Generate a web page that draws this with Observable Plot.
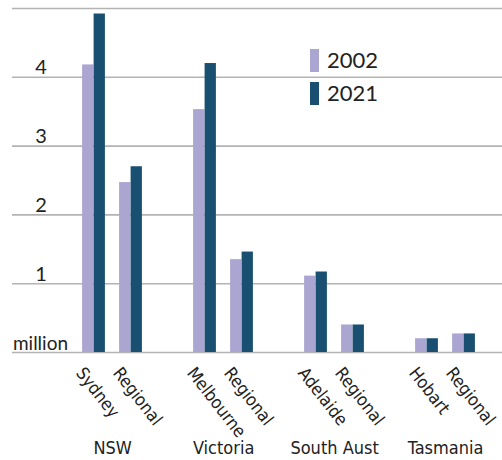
<!DOCTYPE html>
<html>
<head>
<meta charset="utf-8">
<script src="https://cdn.jsdelivr.net/npm/d3@7"></script>
<script src="https://cdn.jsdelivr.net/npm/@observablehq/plot@0.6"></script>
<style>
  body { margin: 0; background: #fff; }
  #wrap { position: relative; width: 502px; height: 460px; overflow: hidden; }
  .sw { position: absolute; width: 9px; height: 23px; }
  .lt { position: absolute; font-family: Lato, "Open Sans", sans-serif; font-size: 22px; line-height: 22px; color: #222; }
</style>
</head>
<body>
<div id="wrap"></div>
<script>
// ---- data ----
const states = ["NSW", "Victoria", "South Aust", "Tasmania"];
const places = ["Sydney", "Regional", "Melbourne", "Regional", "Adelaide", "Regional", "Hobart", "Regional"];
const placeState = ["NSW", "NSW", "Victoria", "Victoria", "South Aust", "South Aust", "Tasmania", "Tasmania"];
const pop2002 = [4.18, 2.47, 3.53, 1.35, 1.11, 0.40, 0.20, 0.27];
const pop2021 = [4.92, 2.70, 4.20, 1.46, 1.17, 0.40, 0.20, 0.27];
const years = ["2002", "2021"];
const yTicks = [1, 2, 3, 4];
const yGrid = [0, 1, 2, 3, 4, 5];
const yUnit = "million";

const colors = {"2002": "#aba6d1", "2021": "#194f70"};

// ---- table ----
const rows = places.map((p, i) => ({
  key: placeState[i] + " " + p,
  place: p,
  state: placeState[i],
  v2002: pop2002[i],
  v2021: pop2021[i],
  first: i % 2 === 0
}));
// x domain: two places per state with an empty slot between states
const xDomain = [];
states.forEach((s, si) => {
  rows.filter(r => r.state === s).forEach(r => xDomain.push(r.key));
  if (si < states.length - 1) xDomain.push("gap" + si);
});

const labelFont = '"Liberation Sans Narrow", "DejaVu Sans Condensed", "Arial Narrow", sans-serif';
const numFont = 'Lato, "Open Sans", sans-serif';

const chart = Plot.plot({
  width: 502,
  height: 460,
  marginLeft: 12,
  marginRight: 0,
  marginTop: 8,
  marginBottom: 108,
  style: {background: "transparent", color: "#222"},
  x: {domain: xDomain, range: [74.1, 483.6], padding: 0, axis: null},
  y: {domain: [0, 5], axis: null},
  marks: [
    Plot.ruleY(yGrid, {y: d => d, stroke: "#b3b3b3", strokeWidth: 1.6}),
    Plot.barY(rows, {x: "key", y: "v2002", fill: colors["2002"], insetLeft: 7.1, insetRight: 18.6}),
    Plot.barY(rows, {x: "key", y: "v2021", fill: colors["2021"], insetLeft: 18.6, insetRight: 7.1}),
    Plot.text(yTicks, {y: d => d, text: d => String(d), frameAnchor: "left", dx: 28.5, dy: -3,
      lineAnchor: "bottom", textAnchor: "middle", fontSize: 20, fontFamily: numFont, fill: "#222"}),
    Plot.text([yUnit], {y: () => 0, text: d => d, frameAnchor: "left", dx: 28, dy: -3,
      lineAnchor: "bottom", textAnchor: "middle", fontSize: 19, fontFamily: numFont, fill: "#222"}),
    Plot.text(rows, {x: "key", text: "place", frameAnchor: "bottom", rotate: 52, textAnchor: "start",
      lineAnchor: "top", dx: -9, dy: 13, fontSize: 17.5, fontFamily: labelFont, fill: "#222"}),
    Plot.text(rows.filter(r => r.first), {x: "key", text: "state", frameAnchor: "bottom", dx: 18.6, dy: 101,
      lineAnchor: "bottom", textAnchor: "middle", fontSize: 18, fontFamily: labelFont, fill: "#222"})
  ]
});

const wrap = document.getElementById("wrap");
wrap.appendChild(chart);

// legend (inside the plot area, top right)
const legendTop = [49, 82];
years.forEach((yr, i) => {
  const sw = document.createElement("div");
  sw.className = "sw";
  sw.style.left = "310px";
  sw.style.top = legendTop[i] + "px";
  sw.style.background = colors[yr];
  wrap.appendChild(sw);
  const t = document.createElement("div");
  t.className = "lt";
  t.style.left = "327px";
  t.style.top = legendTop[i] + "px";
  t.textContent = yr;
  wrap.appendChild(t);
});
</script>
</body>
</html>
